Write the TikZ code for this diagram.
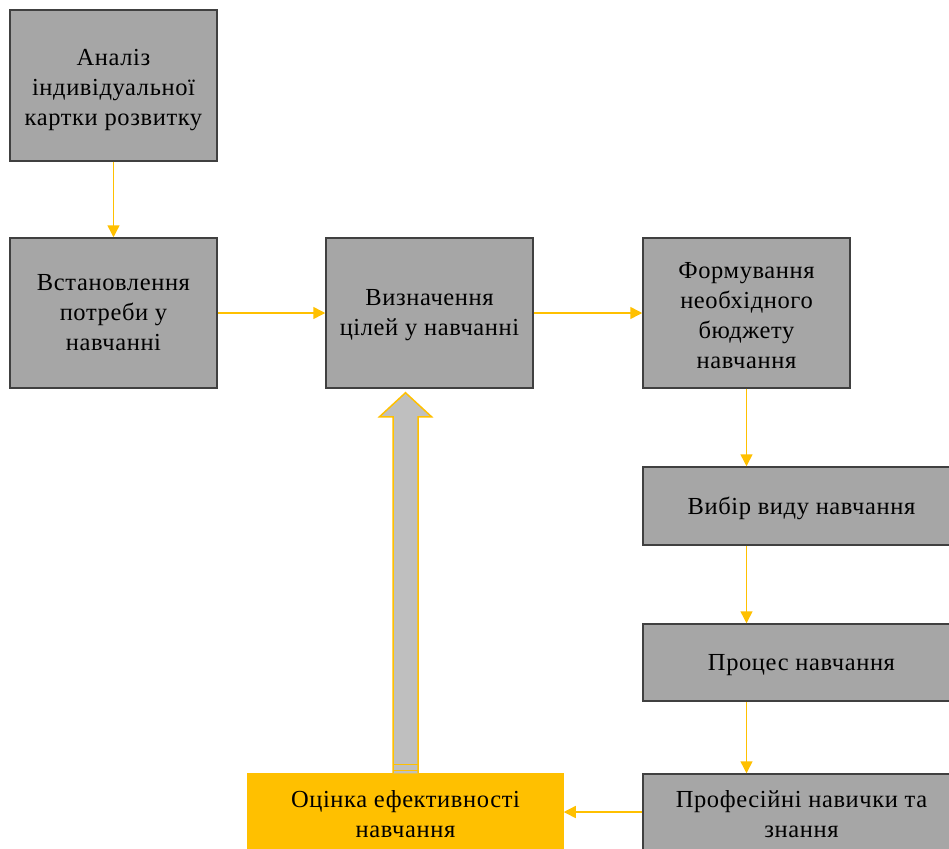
\documentclass[tikz,border=0pt]{standalone}
\usepackage{fontspec}
\setmainfont[LetterSpace=2.5]{Liberation Serif}
\usetikzlibrary{arrows.meta,calc}
\definecolor{boxgray}{HTML}{A6A6A6}
\definecolor{boxline}{HTML}{404040}
\definecolor{gold}{HTML}{FFC000}
\definecolor{shaftgray}{HTML}{BFBFBF}
\newcommand{\lift}[1]{\rule{0pt}{#1}}
\begin{document}
\begin{tikzpicture}[x=1pt,y=-1pt,
  box/.style={draw=boxline, line width=1.5pt, fill=boxgray, align=center,
    font=\fontsize{24.5}{30}\selectfont, inner sep=0pt,
    execute at begin node={\rule{0pt}{#1}}},
  box/.default=29pt,
  goldbox/.style={box, draw=gold, fill=gold},
  flow/.style={draw=gold, line width=1.5pt, -{Triangle[length=12pt,width=12pt]}},
  blockarrow/.style={draw=gold, line width=1.5pt, fill=shaftgray, line join=miter}]
\useasboundingbox (0,0) rectangle (949,848);
\clip (0,0) rectangle (949,848);
\fill[white] (0,0) rectangle (949,848);
\node[box, minimum width=207pt, minimum height=151pt] (a) at (113.5,85.5)
  {\lift{25pt}Аналіз\\індивідуальної\\картки розвитку};
\node[box, minimum width=207pt, minimum height=150pt] (b) at (113.5,313)
  {Встановлення\\потреби у\\навчанні};
\node[box, minimum width=207pt, minimum height=150pt] (c) at (429.5,313)
  {\lift{21pt}Визначення\\цілей у навчанні};
\node[box, minimum width=207pt, minimum height=150pt] (d) at (746.5,313)
  {\lift{21pt}Формування\\необхідного\\бюджету\\навчання};
\node[box=23pt, minimum width=317pt, minimum height=78pt] (e) at (801.5,506)
  {Вибір виду навчання};
\node[box=21pt, minimum width=317pt, minimum height=77pt] (f) at (801.5,662.5)
  {Процес навчання};
\node[box, minimum width=317pt, minimum height=80pt] (g) at (801.5,814)
  {Професійні навички та\\знання};
\node[goldbox, minimum width=315pt, minimum height=80pt] (h) at (405.5,814)
  {Оцінка ефективності\\навчання};
\draw[flow] (a.south) -- (b.north);
\draw[flow] (b.east) -- (c.west);
\draw[flow] (c.east) -- (d.west);
\draw[flow] (d.south) -- (d.south |- e.north);
\draw[flow] (d.south |- e.south) -- (d.south |- f.north);
\draw[flow] (d.south |- f.south) -- (d.south |- g.north);
\draw[flow] (g.west |- 0,812) -- (h.east |- 0,812);
\coordinate (tip) at ($(h.north |- c.south)+(0,4)$);
\draw[blockarrow] ($(h.north)+(-12.5,0)$) -- ($(tip)+(-12.5,24)$) -- ($(tip)+(-26,24)$)
  -- (tip) -- ($(tip)+(26,24)$) -- ($(tip)+(12.5,24)$) -- ($(h.north)+(12.5,0)$);
\draw[gold, line width=1.5pt] ($(h.north)+(-12.5,-9)$) -- ($(h.north)+(12.5,-9)$);
\draw[gold, line width=1.5pt] ($(h.north)+(-12.5,-3)$) -- ($(h.north)+(12.5,-3)$);
\end{tikzpicture}
\end{document}
